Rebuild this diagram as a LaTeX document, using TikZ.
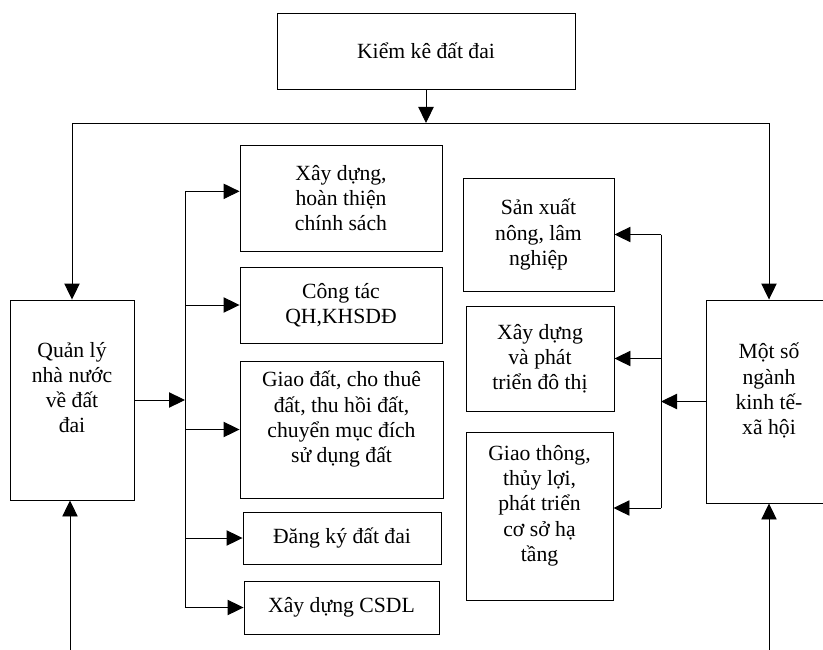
\documentclass[tikz,border=0pt]{standalone}
\usepackage{fontspec}
\setmainfont{Liberation Serif}
\usetikzlibrary{arrows.meta}
\newcommand{\pxu}{0.03cm}
\begin{document}
\begin{tikzpicture}[x=0.03cm, y=-0.03cm, line width=0.8pt,
  box/.style={draw, inner sep=0pt, align=center},
  arr/.style={-{Triangle[length=0.48cm,width=0.46cm]}},
  font=\fontsize{18.5}{21.5}\selectfont]
  \useasboundingbox (0,0) rectangle (823,649);
  \clip (0,0) rectangle (823,649);
  % boxes
  \node[box, minimum width=298*\pxu, minimum height=76*\pxu] (kk) at (426,51) {Kiểm kê đất đai};
  \node[box, minimum width=124*\pxu, minimum height=200*\pxu] (ql) at (72,400) {Quản lý\\nhà nước\\về đất\\đai\\ \mbox{}};
  \node[box, minimum width=202*\pxu, minimum height=106*\pxu] (m1) at (341,198) {Xây dựng,\\hoàn thiện\\chính sách};
  \node[box, minimum width=202*\pxu, minimum height=76*\pxu] (m2) at (341,305) {Công tác\\QH,KHSDĐ};
  \node[box, minimum width=203*\pxu, minimum height=137*\pxu] (m3) at (341.5,429.5) {Giao đất, cho thuê\\đất, thu hồi đất,\\chuyển mục đích\\sử dụng đất\\ \mbox{}};
  \node[box, minimum width=198*\pxu, minimum height=52*\pxu] (m4) at (342,538) {Đăng ký đất đai};
  \node[box, minimum width=195*\pxu, minimum height=53*\pxu] (m5) at (341.5,607.5) {Xây dựng CSDL};
  \node[box, minimum width=151*\pxu, minimum height=113*\pxu] (r1) at (538.5,234.5) {Sản xuất\\nông, lâm\\nghiệp};
  \node[box, minimum width=148*\pxu, minimum height=105*\pxu] (r2) at (540,358.5) {Xây dựng\\và phát\\triển đô thị};
  \node[box, minimum width=147*\pxu, minimum height=168*\pxu] (r3) at (539.5,516) {Giao thông,\\thủy lợi,\\phát triển\\cơ sở hạ\\tầng\\ \mbox{}};
  \node[box, minimum width=126*\pxu, minimum height=203*\pxu] (ks) at (769,401.5) {Một số\\ngành\\kinh tế-\\xã hội\\ \mbox{}};
  % top line
  \coordinate (hl) at (426,123);
  \draw[arr] (kk) -- (hl);
  \draw[arr] (hl) -| (ql);
  \draw[arr] (hl) -| (ks);
  % left bus
  \coordinate (lb) at (185,400);
  \coordinate (m1in) at ([yshift=0.2cm]m1.west);
  \draw[arr] (ql) -- (lb);
  \draw (m1in -| lb) -- (m5.west -| lb);
  \draw[arr] (m1in -| lb) -- (m1in);
  \foreach \n in {m2,m3,m4,m5}
    \draw[arr] (\n.west -| lb) -- (\n.west);
  % right bus
  \coordinate (rb) at (661,398);
  \coordinate (r3in) at ([yshift=0.24cm]r3.east);
  \draw[arr] (ks.west) -- (ks.west -| rb);
  \draw (r1.east -| rb) -- (r3in -| rb);
  \foreach \n in {r1,r2}
    \draw[arr] (\n.east -| rb) -- (\n.east);
  \draw[arr] (r3in -| rb) -- (r3in);
  % bottom arrows
  \coordinate (qlb) at (70,655);
  \coordinate (ksb) at (769,655);
  \draw[arr] (qlb) -- (qlb |- ql.south);
  \draw[arr] (ksb) -- (ks);
\end{tikzpicture}
\end{document}
